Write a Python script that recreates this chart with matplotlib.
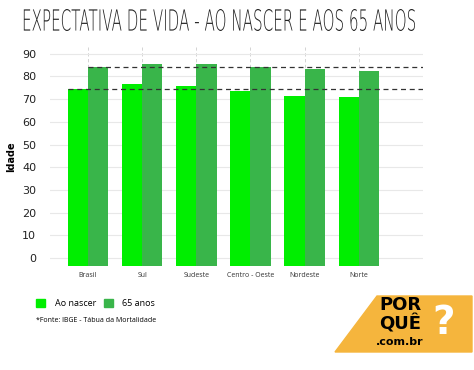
import matplotlib.pyplot as plt
from matplotlib.patches import Polygon, PathPatch
from matplotlib.textpath import TextPath
from matplotlib.font_manager import FontProperties
from matplotlib.transforms import Affine2D
import numpy as np

regioes = ['Brasil', 'Sul', 'Sudeste', 'Centro - Oeste', 'Nordeste', 'Norte']
ao_nascer = [74.6, 76.8, 76.0, 73.8, 71.6, 70.9]
aos_65 = [84.1, 85.3, 85.6, 84.1, 83.4, 82.6]
yticks = [0, 10, 20, 30, 40, 50, 60, 70, 80, 90]

cor_nascer = '#00ee00'
cor_65 = '#39b54a'
base = -3.3
w = 0.375

fig = plt.figure(figsize=(4.74, 3.70), dpi=100)
ax = fig.add_axes([0.1055, 0.281, 0.7865, 0.592])

x = np.arange(len(regioes))
ax.bar(x - w/2, np.array(ao_nascer) - base, w, bottom=base, color=cor_nascer, zorder=2, label='Ao nascer')
ax.bar(x + w/2, np.array(aos_65) - base, w, bottom=base, color=cor_65, zorder=2, label='65 anos')

ax.set_xlim(-0.7, 6.18)
ax.set_ylim(-3.5, 93)

# linhas de referencia do Brasil
xl = ax.get_xlim()
ax.plot([x[0] - w, xl[1]], [ao_nascer[0]] * 2, ls=(0, (4, 3)), color='#333333', lw=0.9, zorder=3)
ax.plot([x[0], xl[1]], [aos_65[0]] * 2, ls=(0, (4, 3)), color='#333333', lw=0.9, zorder=3)

ax.set_yticks(yticks)
ax.set_xticks(x)
ax.set_xticklabels(regioes, fontsize=5, color='#333333', family='Open Sans')
ax.tick_params(length=0)
ax.tick_params(axis='y', labelsize=8, pad=10, colors='#222222')
ax.tick_params(axis='x', pad=4)
ax.grid(axis='y', color='#e8e8e8', lw=0.8, zorder=0)
ax.grid(axis='x', color='#cccccc', lw=0.6, ls=(0, (4, 3)), zorder=0)
for s in ax.spines.values():
    s.set_visible(False)
ax.set_ylabel('Idade', fontsize=7, fontweight='bold', labelpad=4)

# titulo estreito (texto esticado na vertical)
titulo = 'EXPECTATIVA DE VIDA - AO NASCER E AOS 65 ANOS'
tp = TextPath((0, 0), titulo, size=1, prop=FontProperties(family='DejaVu Sans', weight='light'))
vb = tp.vertices
x0, x1 = vb[:, 0].min(), vb[:, 0].max()
y0, y1 = vb[:, 1].min(), vb[:, 1].max()
tr = Affine2D().translate(-x0, -y0).scale(393 / 474 / (x1 - x0), 22 / 370 / (y1 - y0)) \
    .translate(22 / 474, 1 - 31 / 370) + fig.transFigure
fig.patches.append(PathPatch(tp, transform=tr, facecolor='#222222', edgecolor='none'))

# legenda
fig.patches.append(plt.Rectangle((36/474, 1 - 307/370), 9/474, 8/370, color=cor_nascer, transform=fig.transFigure))
fig.text(55/474, 1 - 303/370, 'Ao nascer', fontsize=6.5, va='center', family='Open Sans')
fig.patches.append(plt.Rectangle((104/474, 1 - 307/370), 9/474, 8/370, color=cor_65, transform=fig.transFigure))
fig.text(122/474, 1 - 303/370, '65 anos', fontsize=6.5, va='center', family='Open Sans')
fig.text(36/474, 1 - 320/370, '*Fonte: IBGE - Tábua da Mortalidade', fontsize=5, va='center', family='Open Sans')

# logo
pts = [(335, 352), (377, 296), (472, 296), (472, 352)]
fig.patches.append(Polygon([(px/474, 1 - py/370) for px, py in pts], closed=True,
                           color='#f5b53d', transform=fig.transFigure))
fig.text(400/474, 1 - 305/370, 'POR', fontsize=13, fontweight='black', ha='center', va='center')
fig.text(400/474, 1 - 324/370, 'QUÊ', fontsize=13, fontweight='black', ha='center', va='center')
fig.text(400/474, 1 - 342/370, '.com.br', fontsize=8, fontweight='bold', ha='center', va='center')
fig.text(444/474, 1 - 323/370, '?', fontsize=28, fontweight='black', color='white', ha='center', va='center')

fig.savefig('out.png', dpi=100)
